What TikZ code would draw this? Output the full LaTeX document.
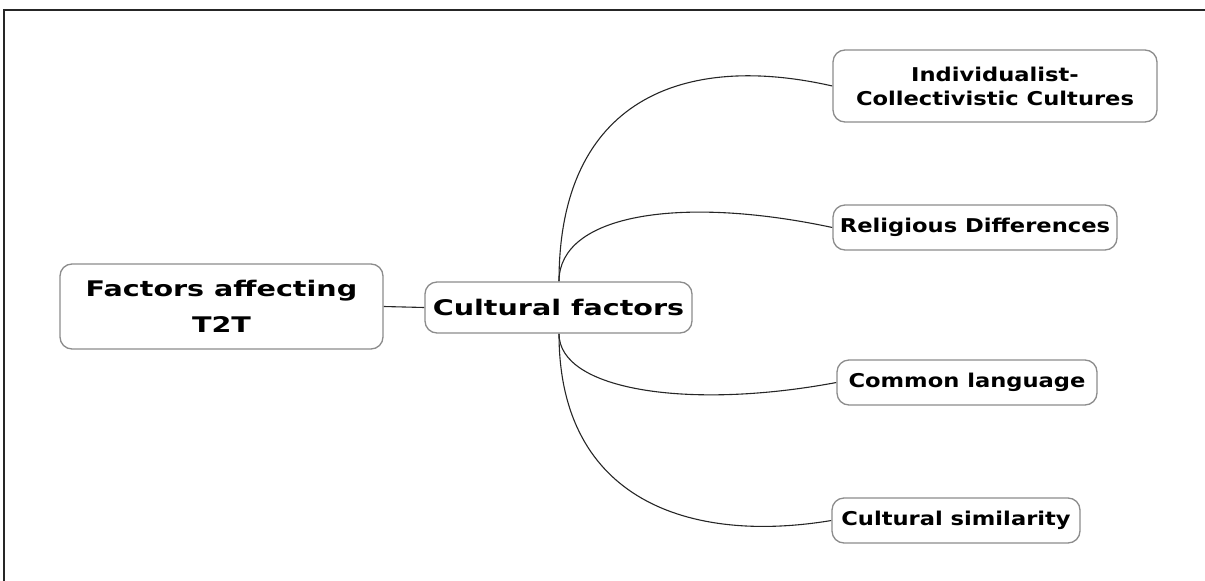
\documentclass[tikz,border=0pt]{standalone}
\usepackage{fontspec}
\setmainfont{DejaVu Sans}
\newfontfamily\bigfont{DejaVu Sans Bold}[FakeStretch=1.33]
\newfontfamily\smallfont{DejaVu Sans Bold}[FakeStretch=1.19]
\usetikzlibrary{backgrounds}
\begin{document}
\begin{tikzpicture}[x=1pt,y=-1pt,
  box/.style={draw=black!45, line width=1.3pt, rounded corners=12pt, fill=white,
    align=center, inner sep=0pt, text=black},
  bigtxt/.style={font=\bigfont\fontsize{21.5}{36}\selectfont},
  smalltxt/.style={font=\smallfont\fontsize{19}{24}\selectfont},
  link/.style={draw=black!85, line width=1.1pt}]
\useasboundingbox (0,0) rectangle (1205,581);
\draw[line width=2pt, black!85] (4,581) -- (4,10) -- (1205,10);
\node[box, bigtxt, minimum width=323pt, minimum height=85pt] (root) at (221.5,306.5) {Factors affecting\\T2T};
\node[box, bigtxt, minimum width=267pt, minimum height=51pt] (cult) at (558.5,307.5) {Cultural factors};
\node[box, smalltxt, minimum width=324pt, minimum height=72pt] (ind) at (995,86) {Individualist-\\Collectivistic Cultures};
\node[box, smalltxt, minimum width=284pt, minimum height=45pt] (rel) at (975,227.5) {Religious Differences};
\node[box, smalltxt, minimum width=260pt, minimum height=45pt] (com) at (967,382.5) {Common language};
\node[box, smalltxt, minimum width=248pt, minimum height=45pt] (sim) at (956,520.5) {Cultural similarity};
\coordinate (ct) at ([xshift=0.5pt]cult.north);
\coordinate (cb) at ([xshift=0.5pt]cult.south);
\begin{scope}[on background layer]
\draw[link] (root.east) -- (cult.west);
\draw[link] (ct) .. controls ([yshift=182pt]ct) and (683,52) .. (ind.west);
\draw[link] (ct) .. controls ([yshift=67pt]ct) and (680,195) .. (rel.west);
\draw[link] (cb) .. controls ([yshift=-57pt]cb) and (690,410) .. (com.west);
\draw[link] (cb) .. controls ([yshift=-167pt]cb) and (690,544) .. (sim.west);
\end{scope}
\end{tikzpicture}
\end{document}
